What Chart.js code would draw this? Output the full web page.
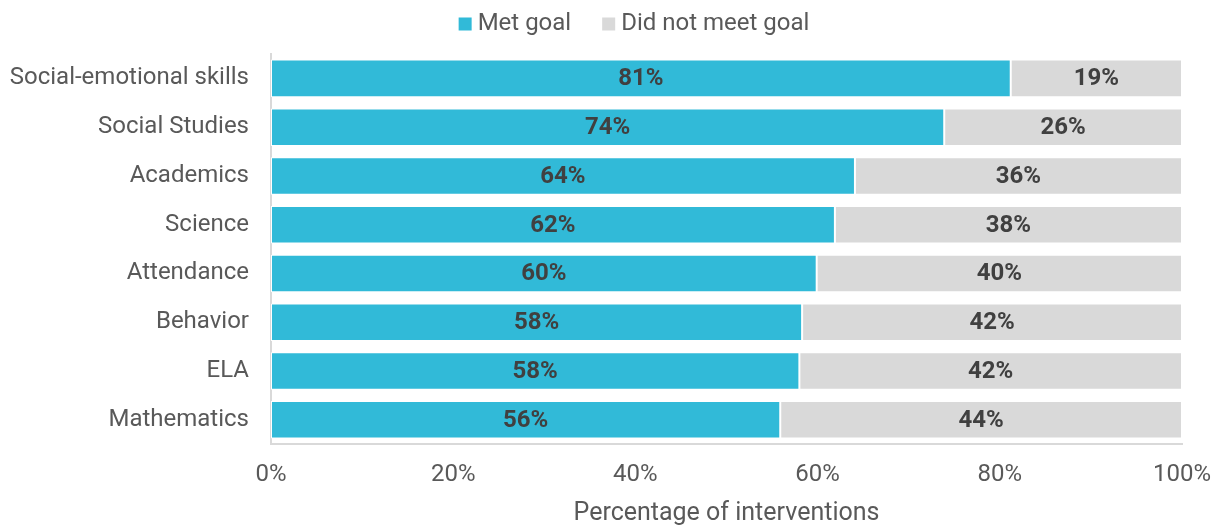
<!DOCTYPE html>
<html>
<head>
<meta charset="utf-8">
<script src="https://cdn.jsdelivr.net/npm/chart.js@4/dist/chart.umd.min.js"></script>
<style>
  html, body { margin: 0; padding: 0; background: #fff; }
  #wrap { width: 1216px; height: 525px; position: relative; }
</style>
</head>
<body>
<div id="wrap"><canvas id="goalChart"></canvas></div>
<script>
// Goal attainment by intervention area
const categories = ['Social-emotional skills', 'Social Studies', 'Academics', 'Science', 'Attendance', 'Behavior', 'ELA', 'Mathematics'];
const metGoal = [81.2, 73.9, 64.1, 61.9, 59.9, 58.3, 58.0, 55.9];
const notMetGoal = [18.8, 26.1, 35.9, 38.1, 40.1, 41.7, 42.0, 44.1];
const xTicks = [0, 20, 40, 60, 80, 100];

const FONT = 'Roboto, "Open Sans", sans-serif';

// draws the bold percentage in the middle of each bar segment
const barLabels = {
  id: 'barLabels',
  afterDatasetsDraw(chart) {
    const ctx = chart.ctx;
    ctx.save();
    ctx.font = 'bold 24px ' + FONT;
    ctx.fillStyle = '#404040';
    ctx.textAlign = 'center';
    ctx.textBaseline = 'middle';
    chart.data.datasets.forEach((ds, i) => {
      chart.getDatasetMeta(i).data.forEach((bar, j) => {
        const cx = (bar.x + bar.base) / 2;
        ctx.fillText(Math.round(ds.data[j]) + '%', cx, bar.y + 1);
      });
    });
    ctx.restore();
  }
};

// compact legend row at the top (box, small gap, label, wider gap)
const topLegend = {
  id: 'topLegend',
  afterDraw(chart) {
    const ctx = chart.ctx;
    const box = 13, gapText = 6, gapItem = 31, centerX = 634, y = 24;
    ctx.save();
    ctx.font = '24px ' + FONT;
    ctx.textBaseline = 'middle';
    ctx.textAlign = 'left';
    const items = chart.data.datasets.map(ds => ({ text: ds.label, color: ds.backgroundColor, w: ctx.measureText(ds.label).width }));
    const total = items.reduce((s, it) => s + box + gapText + it.w, 0) + gapItem * (items.length - 1);
    let x = centerX - total / 2;
    items.forEach(it => {
      ctx.fillStyle = it.color;
      ctx.fillRect(x, y - box / 2, box, box);
      x += box + gapText;
      ctx.fillStyle = '#595959';
      ctx.fillText(it.text, x, y);
      x += it.w + gapItem;
    });
    ctx.restore();
  }
};

new Chart(document.getElementById('goalChart'), {
  type: 'bar',
  data: {
    labels: categories,
    datasets: [
      { label: 'Met goal', data: metGoal, backgroundColor: '#31bad8', borderColor: '#ffffff', borderWidth: 1, borderSkipped: false },
      { label: 'Did not meet goal', data: notMetGoal, backgroundColor: '#d9d9d9', borderColor: '#ffffff', borderWidth: 1, borderSkipped: false }
    ]
  },
  options: {
    indexAxis: 'y',
    responsive: true,
    maintainAspectRatio: false,
    animation: false,
    layout: { padding: { left: 0, right: 34, top: 54, bottom: 0 } },
    datasets: { bar: { barPercentage: 0.77, categoryPercentage: 1 } },
    plugins: {
      legend: { display: false },
      tooltip: { enabled: false }
    },
    scales: {
      x: {
        stacked: true,
        min: 0,
        max: 100,
        afterBuildTicks(scale) { scale.ticks = xTicks.map(v => ({ value: v })); },
        afterFit(scale) { scale.paddingLeft = 0; scale.paddingRight = 0; },
        grid: { display: false, drawTicks: false },
        border: { color: '#d9d9d9', width: 2 },
        ticks: {
          font: { family: FONT, size: 24 },
          color: '#595959',
          padding: 16,
          callback: v => v + '%'
        },
        title: {
          display: true,
          text: 'Percentage of interventions',
          font: { family: FONT, size: 25 },
          color: '#595959',
          padding: { top: -6, bottom: -4 }
        }
      },
      y: {
        stacked: true,
        afterFit(scale) { scale.width = 271; },
        grid: { display: false, drawTicks: false },
        border: { color: '#d9d9d9', width: 2 },
        ticks: {
          font: { family: FONT, size: 24 },
          color: '#595959',
          padding: 22
        }
      }
    }
  },
  plugins: [barLabels, topLegend]
});
</script>
</body>
</html>
